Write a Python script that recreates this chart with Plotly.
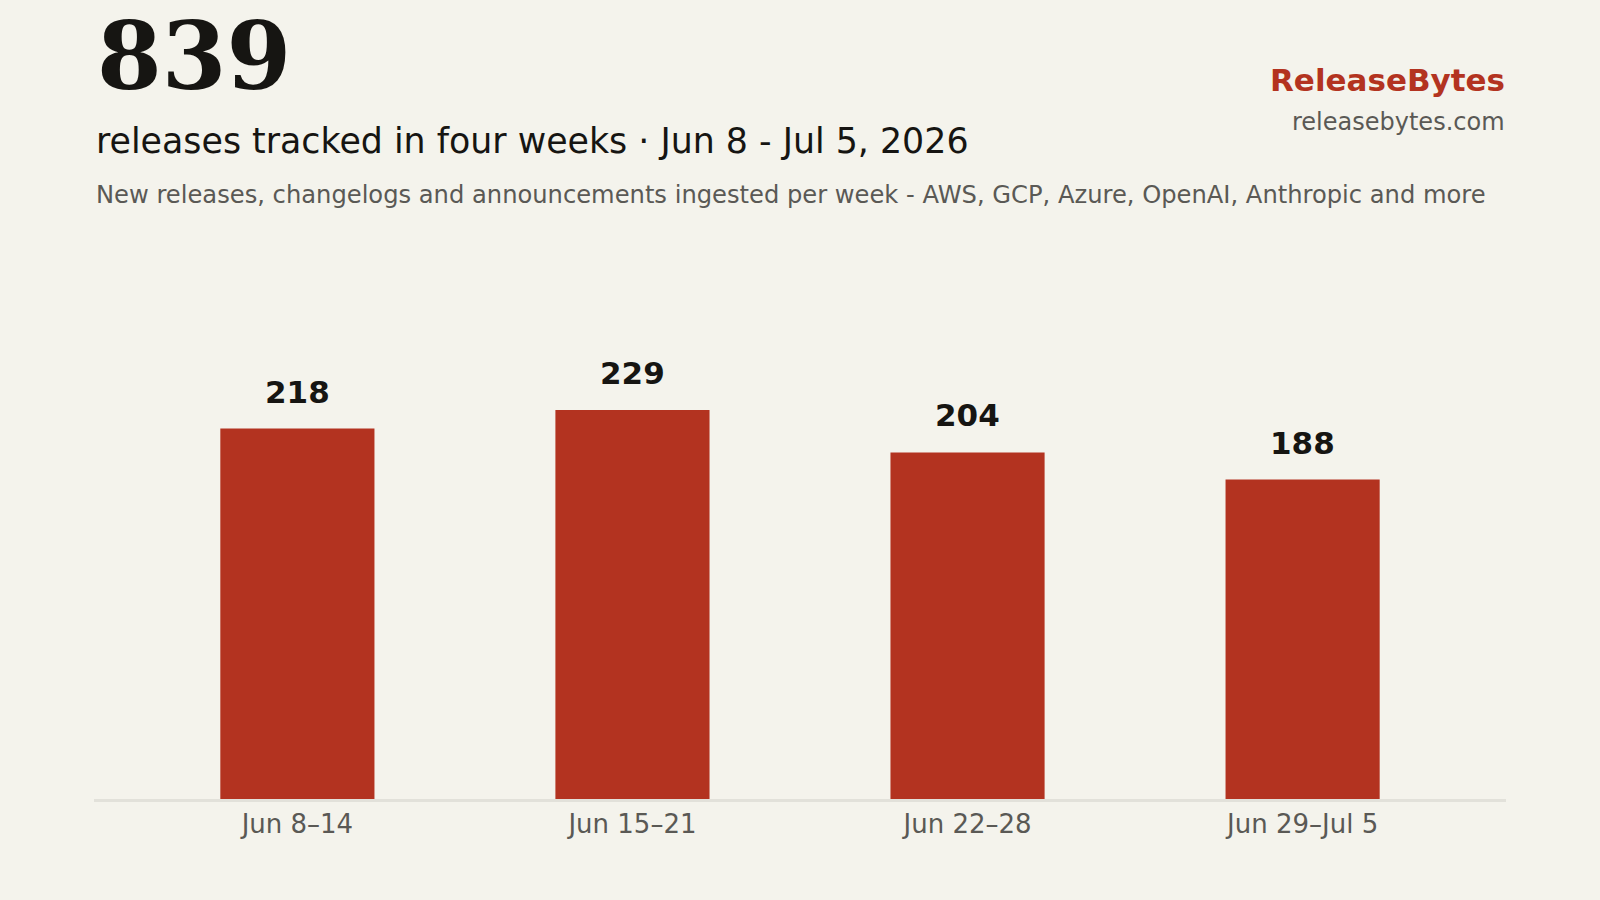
import plotly.graph_objects as go

weeks = ["Jun 8–14", "Jun 15–21", "Jun 22–28", "Jun 29–Jul 5"]
releases = [218, 229, 204, 188]
total_label = "839"
title_text = "releases tracked in four weeks · Jun 8 - Jul 5, 2026"
desc_text = "New releases, changelogs and announcements ingested per week - AWS, GCP, Azure, OpenAI, Anthropic and more"
brand = "ReleaseBytes"
site = "releasebytes.com"

BG = "#f4f3ec"
BAR = "#b33320"
DARK = "#161512"
GRAY = "#5a5955"

W, H = 1600, 900
L, R, T, B = 94, 94, 352, 101
PH = H - T - B
PW = W - L - R

def py(px):
    return (H - B - px) / PH

def px_(x):
    return (x - L) / PW

fig = go.Figure(go.Bar(
    x=list(range(len(weeks))), y=releases, width=0.46,
    marker=dict(color=BAR, line=dict(width=0)),
    hoverinfo="skip",
))

fig.update_layout(
    width=W, height=H, paper_bgcolor=BG, plot_bgcolor=BG,
    margin=dict(l=L, r=R, t=T, b=B, pad=0),
    showlegend=False,
    xaxis=dict(range=[-0.607, 3.607], tickmode="array", tickvals=list(range(len(weeks))),
               ticktext=weeks, showgrid=False, zeroline=False, showline=True,
               linecolor="#e2e1da", linewidth=3, ticks="", ticklabelstandoff=0,
               tickfont=dict(family="DejaVu Sans", size=26, color=GRAY), fixedrange=True),
    yaxis=dict(range=[0, 263.1], showgrid=False, zeroline=False, showticklabels=False,
               showline=False, fixedrange=True),
)

anns = []
for i, v in enumerate(releases):
    anns.append(dict(text=str(v), x=i, y=v, xref="x", yref="y", xanchor="center",
                     yanchor="bottom", yshift=17, showarrow=False,
                     font=dict(family="DejaVu Sans", size=31, color=DARK, weight="bold")))

head = [
    dict(text=total_label, x=px_(95), y=py(56), xanchor="left", yanchor="middle",
         font=dict(family="DejaVu Serif", size=93, color=DARK, weight="bold")),
    dict(text=title_text, x=px_(94), y=py(141), xanchor="left", yanchor="middle",
         font=dict(family="DejaVu Sans", size=34.8, color=DARK)),
    dict(text=desc_text, x=px_(94), y=py(195), xanchor="left", yanchor="middle",
         font=dict(family="DejaVu Sans", size=24.2, color=GRAY)),
    dict(text=brand, x=px_(1507), y=py(80), xanchor="right", yanchor="middle",
         font=dict(family="DejaVu Sans", size=31, color=BAR, weight="bold")),
    dict(text=site, x=px_(1507), y=py(122), xanchor="right", yanchor="middle",
         font=dict(family="DejaVu Sans", size=24, color=GRAY)),
]
for a in head:
    a.update(xref="paper", yref="paper", showarrow=False, align="left")
anns += head
fig.update_layout(annotations=anns)

fig.write_html("out.html")
